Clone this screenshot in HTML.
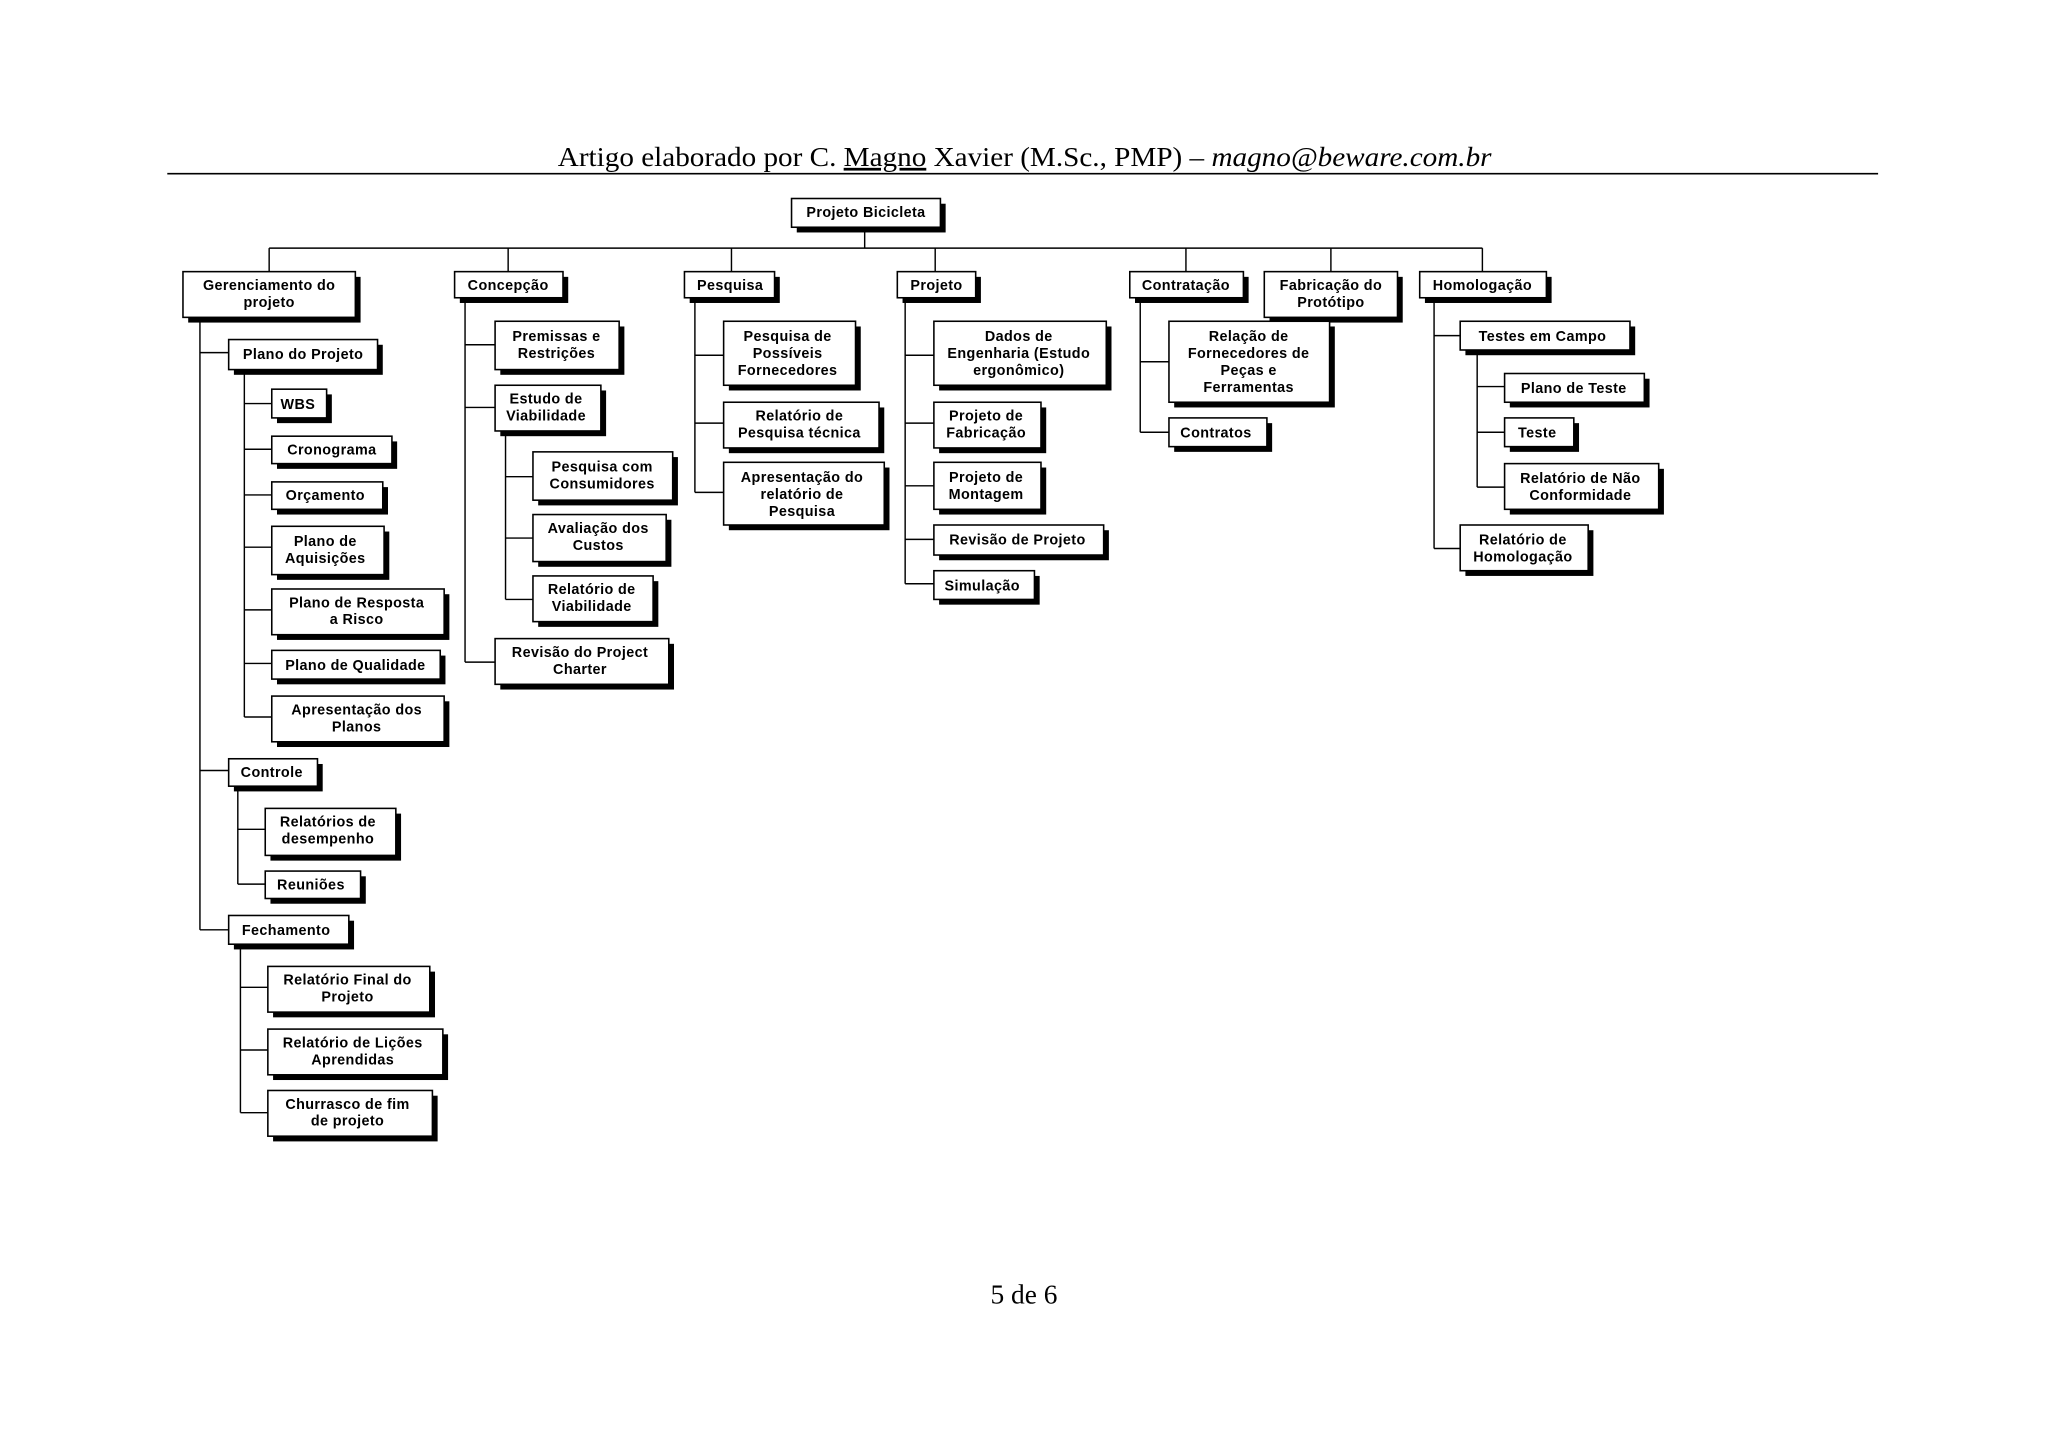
<!DOCTYPE html>
<html><head><meta charset="utf-8"><style>
html,body{margin:0;padding:0;background:#fff;}
svg{display:block;}
.b text{font-family:"Liberation Sans",Arial,sans-serif;font-weight:bold;font-size:11px;text-anchor:middle;fill:#000;letter-spacing:0.3px;}
.s{fill:#000;}
.r{fill:#fff;stroke:#000;stroke-width:1.2;}
.l{stroke:#000;stroke-width:1.1;fill:none;}
</style></head><body>
<svg width="2048" height="1447" viewBox="0 0 1568 1108" xmlns="http://www.w3.org/2000/svg">
<text x="427" y="127" font-family="'Liberation Serif',serif" font-size="21" textLength="715" lengthAdjust="spacingAndGlyphs">Artigo elaborado por C. <tspan text-decoration="underline">Magno</tspan> Xavier (M.Sc., PMP) – <tspan font-style="italic">magno@beware.com.br</tspan></text>
<line x1="128" y1="133" x2="1438" y2="133" stroke="#000" stroke-width="1.3"/>
<text x="784" y="998" font-family="'Liberation Serif',serif" font-size="21" text-anchor="middle">5 de 6</text>

<g class="l">
<path d="M662 174V190M206 190H1135M206 190V208M389 190V208M560 190V208M716 190V208M908 190V208M1019 190V208M1135 190V208"/>
<path d="M153 243V712M153 270H175M153 590H175M153 712H175"/>
<path d="M187 283V549M187 309H208M187 344H208M187 379H208M187 419H208M187 467H208M187 508H208M187 549H208"/>
<path d="M182 602V677M182 635H203M182 677H203"/>
<path d="M184 723V852M184 756H205M184 804H205M184 852H205"/>
<path d="M356 228V507M356 264H379M356 312H379M356 507H379"/>
<path d="M387 330V459M387 365H408M387 412H408M387 459H408"/>
<path d="M532 228V377M532 272H554M532 324H554M532 377H554"/>
<path d="M693 228V447M693 272H715M693 324H715M693 372H715M693 413H715M693 447H715"/>
<path d="M873 228V331M873 277H895M873 331H895"/>
<path d="M1098 228V420M1098 257H1118M1098 420H1118"/>
<path d="M1131 268V373M1131 296H1152M1131 331H1152M1131 373H1152"/>
</g>

<g class="b">
<rect class="s" x="610" y="156" width="114" height="22"/><rect class="r" x="606" y="152" width="114" height="22"/><text x="663" y="166">Projeto Bicicleta</text>
<rect class="s" x="144" y="212" width="132" height="35"/><rect class="r" x="140" y="208" width="132" height="35"/><text x="206" y="222">Gerenciamento do</text><text x="206" y="235">projeto</text>
<rect class="s" x="352" y="212" width="83" height="20"/><rect class="r" x="348" y="208" width="83" height="20"/><text x="389" y="222">Concepção</text>
<rect class="s" x="528" y="212" width="69" height="20"/><rect class="r" x="524" y="208" width="69" height="20"/><text x="559" y="222">Pesquisa</text>
<rect class="s" x="691" y="212" width="60" height="20"/><rect class="r" x="687" y="208" width="60" height="20"/><text x="717" y="222">Projeto</text>
<rect class="s" x="869" y="212" width="87" height="20"/><rect class="r" x="865" y="208" width="87" height="20"/><text x="908" y="222">Contratação</text>
<rect class="s" x="972" y="212" width="102" height="35"/><rect class="r" x="968" y="208" width="102" height="35"/><text x="1019" y="222">Fabricação do</text><text x="1019" y="235">Protótipo</text>
<rect class="s" x="1091" y="212" width="97" height="20"/><rect class="r" x="1087" y="208" width="97" height="20"/><text x="1135" y="222">Homologação</text>

<rect class="s" x="179" y="264" width="114" height="23"/><rect class="r" x="175" y="260" width="114" height="23"/><text x="232" y="275">Plano do Projeto</text>
<rect class="s" x="212" y="302" width="42" height="22"/><rect class="r" x="208" y="298" width="42" height="22"/><text x="228" y="313">WBS</text>
<rect class="s" x="212" y="338" width="92" height="21"/><rect class="r" x="208" y="334" width="92" height="21"/><text x="254" y="348">Cronograma</text>
<rect class="s" x="212" y="373" width="85" height="21"/><rect class="r" x="208" y="369" width="85" height="21"/><text x="249" y="383">Orçamento</text>
<rect class="s" x="212" y="407" width="86" height="37"/><rect class="r" x="208" y="403" width="86" height="37"/><text x="249" y="418">Plano de</text><text x="249" y="431">Aquisições</text>
<rect class="s" x="212" y="455" width="132" height="35"/><rect class="r" x="208" y="451" width="132" height="35"/><text x="273" y="465">Plano de Resposta</text><text x="273" y="478">a Risco</text>
<rect class="s" x="212" y="502" width="129" height="22"/><rect class="r" x="208" y="498" width="129" height="22"/><text x="272" y="513">Plano de Qualidade</text>
<rect class="s" x="212" y="537" width="132" height="35"/><rect class="r" x="208" y="533" width="132" height="35"/><text x="273" y="547">Apresentação dos</text><text x="273" y="560">Planos</text>
<rect class="s" x="179" y="585" width="68" height="21"/><rect class="r" x="175" y="581" width="68" height="21"/><text x="208" y="595">Controle</text>
<rect class="s" x="207" y="623" width="100" height="36"/><rect class="r" x="203" y="619" width="100" height="36"/><text x="251" y="633">Relatórios de</text><text x="251" y="646">desempenho</text>
<rect class="s" x="207" y="671" width="73" height="21"/><rect class="r" x="203" y="667" width="73" height="21"/><text x="238" y="681">Reuniões</text>
<rect class="s" x="179" y="705" width="92" height="22"/><rect class="r" x="175" y="701" width="92" height="22"/><text x="219" y="716">Fechamento</text>
<rect class="s" x="209" y="744" width="124" height="35"/><rect class="r" x="205" y="740" width="124" height="35"/><text x="266" y="754">Relatório Final do</text><text x="266" y="767">Projeto</text>
<rect class="s" x="209" y="792" width="134" height="35"/><rect class="r" x="205" y="788" width="134" height="35"/><text x="270" y="802">Relatório de Lições</text><text x="270" y="815">Aprendidas</text>
<rect class="s" x="209" y="839" width="126" height="35"/><rect class="r" x="205" y="835" width="126" height="35"/><text x="266" y="849">Churrasco de fim</text><text x="266" y="862">de projeto</text>

<rect class="s" x="383" y="250" width="95" height="37"/><rect class="r" x="379" y="246" width="95" height="37"/><text x="426" y="261">Premissas e</text><text x="426" y="274">Restrições</text>
<rect class="s" x="383" y="299" width="81" height="35"/><rect class="r" x="379" y="295" width="81" height="35"/><text x="418" y="309">Estudo de</text><text x="418" y="322">Viabilidade</text>
<rect class="s" x="412" y="350" width="107" height="37"/><rect class="r" x="408" y="346" width="107" height="37"/><text x="461" y="361">Pesquisa com</text><text x="461" y="374">Consumidores</text>
<rect class="s" x="412" y="398" width="102" height="36"/><rect class="r" x="408" y="394" width="102" height="36"/><text x="458" y="408">Avaliação dos</text><text x="458" y="421">Custos</text>
<rect class="s" x="412" y="445" width="92" height="35"/><rect class="r" x="408" y="441" width="92" height="35"/><text x="453" y="455">Relatório de</text><text x="453" y="468">Viabilidade</text>
<rect class="s" x="383" y="493" width="133" height="35"/><rect class="r" x="379" y="489" width="133" height="35"/><text x="444" y="503">Revisão do Project</text><text x="444" y="516">Charter</text>

<rect class="s" x="558" y="250" width="101" height="49"/><rect class="r" x="554" y="246" width="101" height="49"/><text x="603" y="261">Pesquisa de</text><text x="603" y="274">Possíveis</text><text x="603" y="287">Fornecedores</text>
<rect class="s" x="558" y="312" width="119" height="35"/><rect class="r" x="554" y="308" width="119" height="35"/><text x="612" y="322">Relatório de</text><text x="612" y="335">Pesquisa técnica</text>
<rect class="s" x="558" y="358" width="123" height="48"/><rect class="r" x="554" y="354" width="123" height="48"/><text x="614" y="369">Apresentação do</text><text x="614" y="382">relatório de</text><text x="614" y="395">Pesquisa</text>

<rect class="s" x="719" y="250" width="132" height="49"/><rect class="r" x="715" y="246" width="132" height="49"/><text x="780" y="261">Dados de</text><text x="780" y="274">Engenharia (Estudo</text><text x="780" y="287">ergonômico)</text>
<rect class="s" x="719" y="312" width="82" height="35"/><rect class="r" x="715" y="308" width="82" height="35"/><text x="755" y="322">Projeto de</text><text x="755" y="335">Fabricação</text>
<rect class="s" x="719" y="358" width="82" height="36"/><rect class="r" x="715" y="354" width="82" height="36"/><text x="755" y="369">Projeto de</text><text x="755" y="382">Montagem</text>
<rect class="s" x="719" y="406" width="130" height="23"/><rect class="r" x="715" y="402" width="130" height="23"/><text x="779" y="417">Revisão de Projeto</text>
<rect class="s" x="719" y="441" width="77" height="22"/><rect class="r" x="715" y="437" width="77" height="22"/><text x="752" y="452">Simulação</text>

<rect class="s" x="899" y="250" width="123" height="62"/><rect class="r" x="895" y="246" width="123" height="62"/><text x="956" y="261">Relação de</text><text x="956" y="274">Fornecedores de</text><text x="956" y="287">Peças e</text><text x="956" y="300">Ferramentas</text>
<rect class="s" x="899" y="324" width="75" height="22"/><rect class="r" x="895" y="320" width="75" height="22"/><text x="931" y="335">Contratos</text>

<rect class="s" x="1122" y="250" width="130" height="22"/><rect class="r" x="1118" y="246" width="130" height="22"/><text x="1181" y="261">Testes em Campo</text>
<rect class="s" x="1156" y="290" width="107" height="22"/><rect class="r" x="1152" y="286" width="107" height="22"/><text x="1205" y="301">Plano de Teste</text>
<rect class="s" x="1156" y="324" width="53" height="22"/><rect class="r" x="1152" y="320" width="53" height="22"/><text x="1177" y="335">Teste</text>
<rect class="s" x="1156" y="359" width="118" height="35"/><rect class="r" x="1152" y="355" width="118" height="35"/><text x="1210" y="370">Relatório de Não</text><text x="1210" y="383">Conformidade</text>
<rect class="s" x="1122" y="406" width="98" height="35"/><rect class="r" x="1118" y="402" width="98" height="35"/><text x="1166" y="417">Relatório de</text><text x="1166" y="430">Homologação</text>
</g>
</svg>
</body></html>
